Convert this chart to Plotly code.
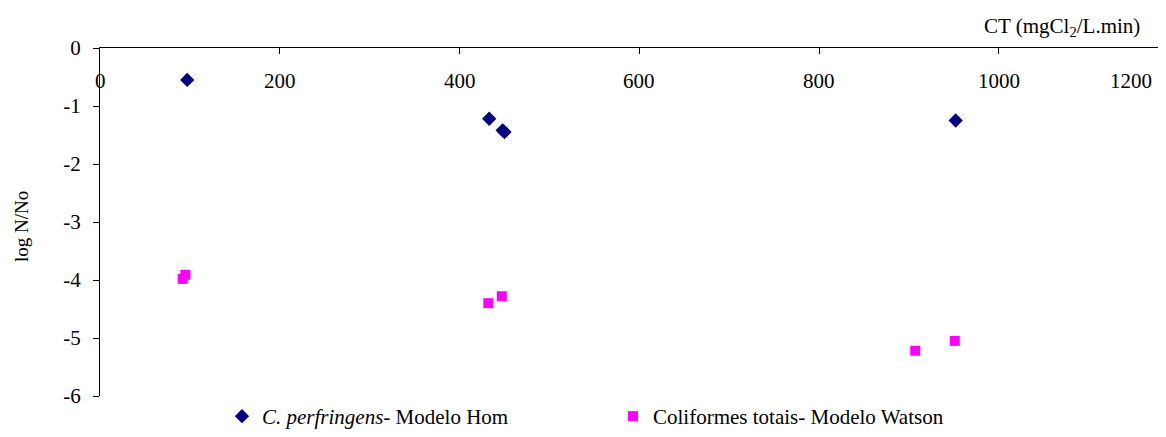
import plotly.graph_objects as go

# Data
cp_ct = [97, 433, 448, 450, 952]
cp_log = [-0.55, -1.22, -1.42, -1.45, -1.25]

col_ct = [92, 95, 432, 447, 907, 951]
col_log = [-3.98, -3.91, -4.40, -4.28, -5.22, -5.05]

x_tickvals = [0, 200, 400, 600, 800, 1000]
x_ticktext = ["0", "200", "400", "600", "800", "1000"]
y_tickvals = [0, -1, -2, -3, -4, -5, -6]
y_ticktext = ["0", "-1", "-2", "-3", "-4", "-5", "-6"]

FONT = "Liberation Serif"
FS = 21

# page body has an 8px margin; figure is sized to fit the window
OFF = 8
W = 1166 - OFF
H = 437 - OFF

PLOT_LEFT = 100 - OFF
PLOT_TOP = 48 - OFF
PLOT_H = 350
PLOT_W = W - PLOT_LEFT

fig = go.Figure()
fig.add_trace(go.Scatter(
    x=cp_ct, y=cp_log, mode="markers",
    name="<i>C. perfringens</i>- Modelo Hom",
    marker=dict(symbol="diamond", size=11, color="#000080"),
    legend="legend",
))
fig.add_trace(go.Scatter(
    x=col_ct, y=col_log, mode="markers",
    name="Coliformes totais- Modelo Watson",
    marker=dict(symbol="square", size=10, color="#FF00FF"),
    legend="legend2",
))

fig.update_layout(
    width=W, height=H,
    margin=dict(l=PLOT_LEFT, r=0, t=PLOT_TOP, b=H - PLOT_TOP - PLOT_H),
    paper_bgcolor="white", plot_bgcolor="white",
    font=dict(family=FONT, size=FS, color="black"),
    legend=dict(orientation="h", xref="container", yref="container",
                x=(222 - OFF) / W, y=-6 / H, xanchor="left", yanchor="bottom",
                font=dict(family=FONT, size=FS, color="black"), bgcolor="rgba(0,0,0,0)"),
    legend2=dict(orientation="h", xref="container", yref="container",
                 x=(613 - OFF) / W, y=-9 / H, xanchor="left", yanchor="bottom",
                 font=dict(family=FONT, size=FS, color="black"), bgcolor="rgba(0,0,0,0)"),
    xaxis=dict(
        range=[0, 1186], side="top", anchor="y", automargin=False,
        showline=True, linecolor="black", linewidth=1.3,
        ticks="inside", ticklen=6, tickcolor="black",
        tickvals=x_tickvals, showticklabels=False,
        showgrid=False, zeroline=False,
    ),
    yaxis=dict(
        range=[-6, 0], automargin=False,
        showline=True, linecolor="black", linewidth=1.3,
        ticks="outside", ticklen=6, tickcolor="black",
        tickvals=y_tickvals, ticktext=y_ticktext, ticklabelstandoff=8,
        showgrid=False, zeroline=False,
        tickfont=dict(family=FONT, size=FS, color="black"),
    ),
    showlegend=True,
)

label_y = 1 - (81 - 48) / PLOT_H
for v, t in zip(x_tickvals, x_ticktext):
    fig.add_annotation(text=t, xref="x", yref="paper", x=v, y=label_y,
                       xanchor="center", yanchor="middle", showarrow=False,
                       font=dict(family=FONT, size=FS, color="black"))
fig.add_annotation(text="1200", xref="paper", yref="paper",
                   x=(1131 - 100) / PLOT_W, y=label_y,
                   xanchor="center", yanchor="middle", showarrow=False,
                   font=dict(family=FONT, size=FS, color="black"))
fig.add_annotation(text="CT (mgCl<sub>2</sub>/L.min)", xref="paper", yref="paper",
                   x=(1142 - 100) / PLOT_W, y=1 + (48 - 27) / PLOT_H,
                   xanchor="right", yanchor="middle", showarrow=False,
                   font=dict(family=FONT, size=FS, color="black"))
fig.add_annotation(text="log N/No", xref="paper", yref="paper",
                   x=(22 - 100) / PLOT_W, y=(398 - 228) / PLOT_H, textangle=-90,
                   xanchor="center", yanchor="middle", showarrow=False,
                   font=dict(family=FONT, size=19, color="black"))

fig.write_html("out.html")
